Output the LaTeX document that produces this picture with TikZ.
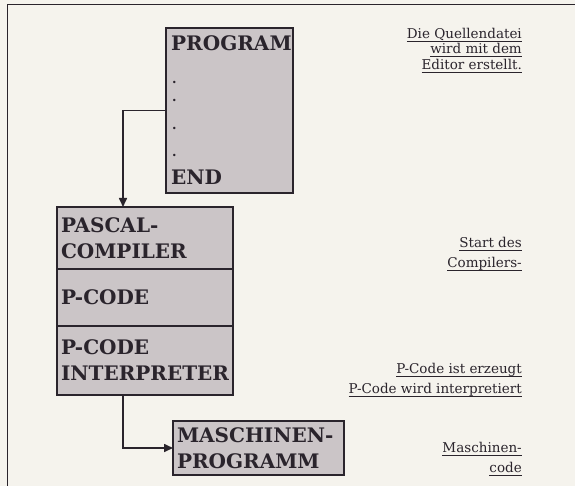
\documentclass[tikz,border=0pt]{standalone}
\usepackage{fontspec}
\setmainfont{DejaVu Serif}
\usetikzlibrary{arrows.meta,positioning}

\definecolor{paper}{RGB}{245,243,237}
\definecolor{boxfill}{RGB}{203,197,199}
\definecolor{ink}{RGB}{42,36,44}

\newcommand{\undl}[1]{\setbox0\hbox{#1}\rlap{\rule[-3.5pt]{\wd0}{1pt}}\box0}

\tikzset{
  block/.style={draw=ink, line width=1.3pt, fill=boxfill, text=ink, outer sep=0pt,
    inner sep=4pt, align=left, font=\bfseries\fontsize{20}{26}\selectfont},
  blocktext/.style={text=ink, inner sep=0pt, anchor=base west,
    font=\bfseries\fontsize{20}{26}\selectfont},
  note/.style={text=ink, inner sep=0pt, align=right, anchor=north east},
  flow/.style={draw=ink, line width=1.6pt, -{Triangle[length=9pt,width=8pt]}}
}

\begin{document}
\begin{tikzpicture}[x=1pt,y=-1pt]
  \useasboundingbox (0,0) rectangle (575,486);
  \fill[paper] (0,0) rectangle (575,486);
  \draw[ink, line width=1pt] (575,5) -- (7,5) -- (7,486);

  % source file
  \node[block, anchor=north west, minimum width=127pt, minimum height=165pt] (prog) at (166,28) {};
  \node[blocktext] (progtop) at (171,51) {PROGRAM};
  \node[blocktext, font=\bfseries\fontsize{13}{13}\selectfont] (dot1) at (172,84) {.};
  \node[blocktext, font=\bfseries\fontsize{13}{13}\selectfont] (dot2) at (172,102) {.};
  \node[blocktext, font=\bfseries\fontsize{13}{13}\selectfont] (dot3) at (172,130) {.};
  \node[blocktext, font=\bfseries\fontsize{13}{13}\selectfont] (dot4) at (172,157) {.};
  \node[blocktext] (progend) at (171,185) {END};

  % compiler stack
  \node[block, anchor=north west, text width=168pt, minimum height=62pt] (compiler) at (57,207) {PASCAL-\\COMPILER};
  \node[block, below=0pt of compiler, text width=168pt, minimum height=57pt] (pcode) {P-CODE};
  \node[block, below=0pt of pcode, text width=168pt, minimum height=69pt] (interp) {P-CODE\\INTERPRETER};

  % machine program
  \node[block, anchor=north west, text width=163pt, minimum height=54pt] (machine) at (173,421) {MASCHINEN-\\PROGRAMM};

  \draw[flow] (prog.west) -| ([xshift=-22pt]compiler.north);
  \draw[flow] ([xshift=-22pt]interp.south) |- (machine.west);

  % notes
  \node[note, font=\fontsize{13.5}{15.5}\selectfont] (note1) at (522,28)
    {\undl{Die Quellendatei}\\\undl{wird mit dem}\\\undl{Editor erstellt.}};
  \node[note, font=\fontsize{13.5}{20}\selectfont] (note2) at (522,237)
    {\undl{Start des}\\\undl{Compilers-}};
  \node[note, font=\fontsize{13.5}{20}\selectfont] (note3) at (522,363)
    {\undl{P-Code ist erzeugt}\\\undl{P-Code wird interpretiert}};
  \node[note, font=\fontsize{13.5}{20}\selectfont] (note4) at (522,442)
    {\undl{Maschinen-}\\\undl{code}};
\end{tikzpicture}
\end{document}
